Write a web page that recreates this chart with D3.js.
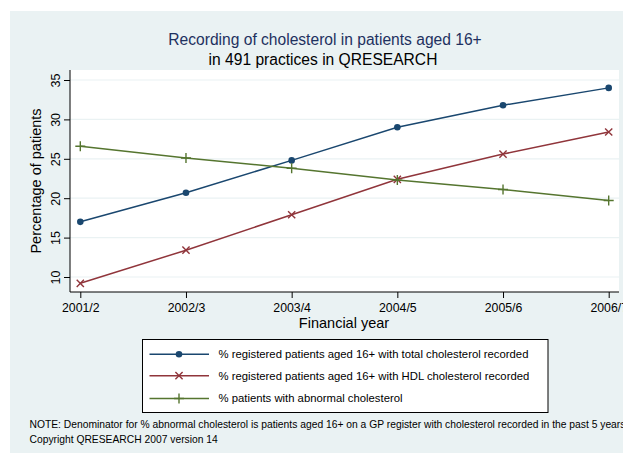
<!DOCTYPE html>
<html><head><meta charset="utf-8">
<script src="https://cdn.jsdelivr.net/npm/d3@7/dist/d3.min.js"></script>
<style>body{margin:0;background:#fff}svg{display:block;font-family:"Liberation Sans",Arial,sans-serif}</style>
</head><body><svg id="c" width="623" height="454"></svg>
<script>
const years = ["2001/2","2002/3","2003/4","2004/5","2005/6","2006/7"];
const totalChol = [17.0,20.7,24.8,29.0,31.8,34.0];
const hdlChol = [9.2,13.4,17.9,22.4,25.6,28.4];
const abnormal = [26.6,25.1,23.8,22.3,21.1,19.7];
const yTicks = [10,15,20,25,30,35];
const seriesNames = ["% registered patients aged 16+ with total cholesterol recorded","% registered patients aged 16+ with HDL cholesterol recorded","% patients with abnormal cholesterol"];
const seriesColors = ["#1a476f","#90353b","#55752f"];
const seriesMarkers = ["circle","x","plus"];
const seriesData = [totalChol,hdlChol,abnormal];

const svg = d3.select("#c");
svg.append("rect").attr("x",10).attr("y",11).attr("width",613).attr("height",442).attr("fill","#eaf2f3");
const pl=70, pr=619, pt=70, pb=292;
svg.append("rect").attr("x",pl).attr("y",pt).attr("width",pr-pl).attr("height",pb-pt).attr("fill","#fff");

const x = d3.scalePoint().domain(years).range([80.3,608.7]);
const y = d3.scaleLinear().domain([10,35]).range([277,80]);

svg.append("g").selectAll("line").data(yTicks).join("line")
  .attr("x1",pl).attr("x2",pr).attr("y1",d=>y(d)).attr("y2",d=>y(d))
  .attr("stroke","#eaf2f3").attr("stroke-width",1.2);

const ya = svg.append("g").attr("transform",`translate(${pl},0)`)
  .call(d3.axisLeft(y).tickValues(yTicks).tickSize(6).tickPadding(4));
ya.select(".domain").attr("d",`M0,${pt}V${pb}`).attr("stroke","#000");
ya.selectAll(".tick line").attr("stroke","#000");
ya.selectAll(".tick text").attr("transform","rotate(-90)").attr("x",0).attr("y",-10)
  .attr("dy",0).attr("text-anchor","middle").attr("font-size",12.5).attr("fill","#000")
  .attr("font-family","Liberation Sans, Arial, sans-serif");

const xa = svg.append("g").attr("transform",`translate(0,${pb})`)
  .call(d3.axisBottom(x).tickSize(6).tickPadding(4));
xa.select(".domain").attr("d",`M${pl},0H${pr}`).attr("stroke","#000");
xa.selectAll(".tick line").attr("stroke","#000");
xa.selectAll(".tick text").attr("font-size",12.3).attr("fill","#000").attr("dy","0.85em")
  .attr("font-family","Liberation Sans, Arial, sans-serif");

svg.append("text").attr("x",325).attr("y",45).attr("text-anchor","middle").attr("font-size",15.6)
  .attr("fill","#1e3160").text("Recording of cholesterol in patients aged 16+");
svg.append("text").attr("x",323).attr("y",65).attr("text-anchor","middle").attr("font-size",15.6)
  .attr("fill","#000").text("in 491 practices in QRESEARCH");
svg.append("text").attr("x",344).attr("y",328).attr("text-anchor","middle").attr("font-size",14.5).text("Financial year");
svg.append("text").attr("transform","translate(41,181) rotate(-90)").attr("text-anchor","middle").attr("font-size",14.5).text("Percentage of patients");

function marker(g, type, color, cx, cy){
  if(type==="circle") g.append("circle").attr("cx",cx).attr("cy",cy).attr("r",3.3).attr("fill",color);
  else if(type==="x"){ const s=3.6;
    g.append("path").attr("d",`M${cx-s},${cy-s}L${cx+s},${cy+s}M${cx-s},${cy+s}L${cx+s},${cy-s}`).attr("stroke",color).attr("stroke-width",1.4).attr("fill","none");}
  else { const s=5;
    g.append("path").attr("d",`M${cx-s},${cy}L${cx+s},${cy}M${cx},${cy-s}L${cx},${cy+s}`).attr("stroke",color).attr("stroke-width",1.4).attr("fill","none");}
}
const line = d3.line().x((d,i)=>x(years[i])).y(d=>y(d));
seriesData.forEach((vals,k)=>{
  const g = svg.append("g");
  g.append("path").attr("d",line(vals)).attr("fill","none").attr("stroke",seriesColors[k]).attr("stroke-width",1.5);
  vals.forEach((v,i)=>marker(g,seriesMarkers[k],seriesColors[k],x(years[i]),y(v)));
});

svg.append("rect").attr("x",142.5).attr("y",339.5).attr("width",405.5).attr("height",73).attr("fill","#fff").attr("stroke","#000").attr("stroke-width",1);
const rowY=[354.3,375.7,398.5];
seriesNames.forEach((n,k)=>{
  const g=svg.append("g");
  g.append("line").attr("x1",149.5).attr("x2",209).attr("y1",rowY[k]).attr("y2",rowY[k]).attr("stroke",seriesColors[k]).attr("stroke-width",1.5);
  marker(g,seriesMarkers[k],seriesColors[k],179,rowY[k]);
  g.append("text").attr("x",218.5).attr("y",rowY[k]).attr("dy","0.35em").attr("font-size",11.3).text(n);
});

svg.append("text").attr("x",29.5).attr("y",428).attr("font-size",10.3).text("NOTE: Denominator for % abnormal cholesterol is patients aged 16+ on a GP register with cholesterol recorded in the past 5 years");
svg.append("text").attr("x",29.5).attr("y",443).attr("font-size",10.3).text("Copyright QRESEARCH 2007 version 14");
</script></body></html>
